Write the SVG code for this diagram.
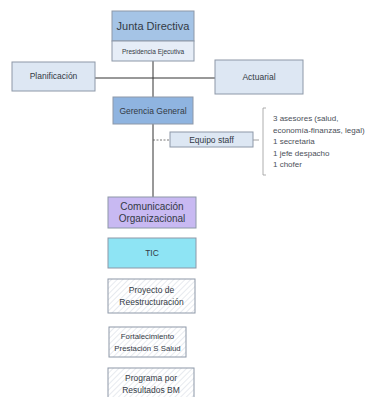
<svg xmlns="http://www.w3.org/2000/svg" width="371" height="397" viewBox="0 0 371 397">
<defs>
<pattern id="hatch" patternUnits="userSpaceOnUse" width="4" height="4" patternTransform="rotate(45)">
<rect width="4" height="4" fill="#ffffff"/>
<line x1="0" y1="0" x2="0" y2="4" stroke="#dfe3ea" stroke-width="1.5"/>
</pattern>
<style>
text{font-family:"Liberation Sans","DejaVu Sans",sans-serif;fill:#333a45;text-anchor:middle}
.box{stroke:#8d98a8;stroke-width:1}
.ln{stroke:#333;stroke-width:1;fill:none}
.t{font-size:8.5px}
.s{font-size:8px;text-anchor:start;fill:#4a4f58}
</style>
</defs>
<rect width="371" height="397" fill="#ffffff"/>
<g id="connectors">
<line class="ln" x1="153" y1="61" x2="153" y2="197"/>
<line class="ln" x1="95" y1="78" x2="215" y2="78"/>
<line x1="153" y1="140" x2="170" y2="140" stroke="#555" stroke-width="0.8" stroke-dasharray="2,1.5"/>
<line x1="253" y1="140" x2="259" y2="140" stroke="#888" stroke-width="0.8"/>
<path d="M266,108 H263 V175 H266" fill="none" stroke="#999" stroke-width="0.8"/>
</g>
<g id="junta">
<rect class="box" x="112" y="11" width="82" height="30" fill="#a5c4e6"/>
<rect class="box" x="112" y="41" width="82" height="20" fill="#e6edf7"/>
<text x="153" y="30" font-size="11">Junta Directiva</text>
<text x="153" y="54" font-size="6.5">Presidencia Ejecutiva</text>
</g>
<g id="planificacion">
<rect class="box" x="12" y="62" width="83" height="29" fill="#dde7f3"/>
<text class="t" x="53.5" y="79">Planificación</text>
</g>
<g id="actuarial">
<rect class="box" x="215" y="60" width="88" height="34" fill="#dde7f3"/>
<text class="t" x="259" y="80">Actuarial</text>
</g>
<g id="gerencia">
<rect class="box" x="113" y="97" width="80" height="27" fill="#8fb4e0"/>
<text class="t" x="153" y="114">Gerencia General</text>
</g>
<g id="equipo">
<rect class="box" x="170" y="132" width="83" height="15" fill="#dde7f3"/>
<text class="t" x="211.5" y="143">Equipo staff</text>
</g>
<g id="staff-list">
<text class="s" x="273" y="121">3 asesores (salud,</text>
<text class="s" x="273" y="132.5">economía-finanzas, legal)</text>
<text class="s" x="273" y="144">1 secretaria</text>
<text class="s" x="273" y="155.5">1 jefe despacho</text>
<text class="s" x="273" y="167">1 chofer</text>
</g>
<g id="comunicacion">
<rect class="box" x="108" y="197" width="88" height="31" fill="#c8b9f2"/>
<text x="152" y="210" font-size="10">Comunicación</text>
<text x="152" y="222" font-size="10">Organizacional</text>
</g>
<g id="tic">
<rect class="box" x="108" y="238" width="88" height="30" fill="#8ee4f4"/>
<text class="t" x="152" y="256">TIC</text>
</g>
<g id="proyecto">
<rect class="box" x="108" y="279" width="87" height="34" fill="url(#hatch)"/>
<text class="t" x="151.5" y="293">Proyecto de</text>
<text class="t" x="151.5" y="305">Reestructuración</text>
</g>
<g id="fortalecimiento">
<rect class="box" x="109" y="327" width="77" height="30" fill="url(#hatch)"/>
<text x="147.5" y="339" font-size="7.8">Fortalecimiento</text>
<text x="147.5" y="351" font-size="7.8">Prestación S Salud</text>
</g>
<g id="programa">
<rect class="box" x="108" y="368" width="86" height="32" fill="url(#hatch)"/>
<text class="t" x="151" y="381">Programa por</text>
<text class="t" x="151" y="393">Resultados BM</text>
</g>
</svg>
